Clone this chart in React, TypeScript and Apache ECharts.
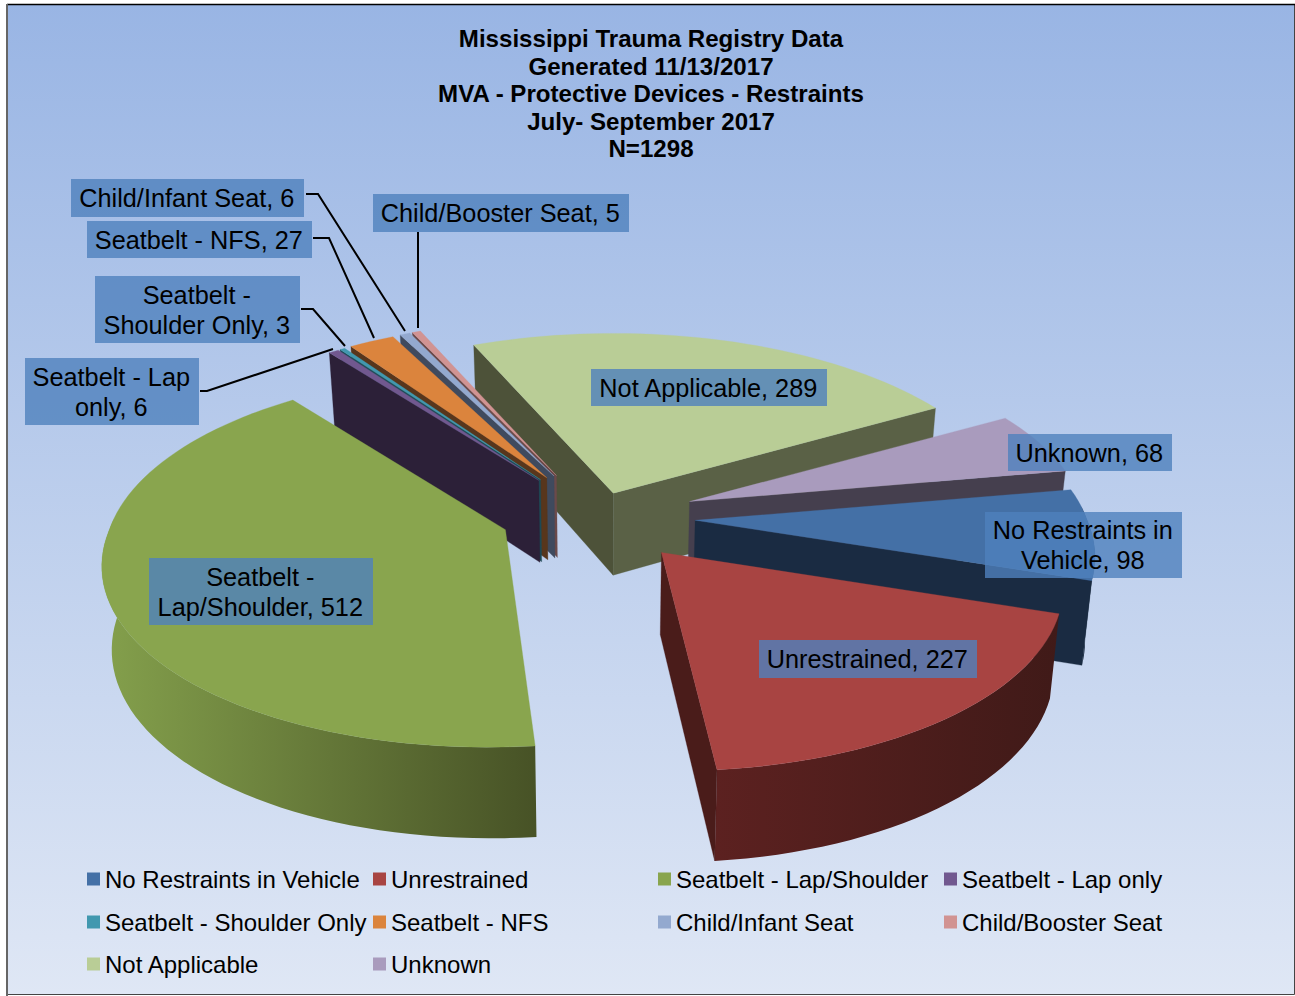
import React, { useEffect, useRef } from "react";
import * as echarts from "echarts";

const titleLines = [
  "Mississippi Trauma Registry Data",
  "Generated 11/13/2017",
  "MVA - Protective Devices - Restraints",
  "July- September 2017",
  "N=1298",
];
const sliceNames = [
  "No Restraints in Vehicle",
  "Unrestrained",
  "Seatbelt - Lap/Shoulder",
  "Seatbelt - Lap only",
  "Seatbelt - Shoulder Only",
  "Seatbelt - NFS",
  "Child/Infant Seat",
  "Child/Booster Seat",
  "Not Applicable",
  "Unknown",
];
const sliceValues = [98, 227, 512, 6, 3, 27, 6, 5, 289, 68];

// styling tables, same order as sliceNames
const topColors = ["#4470a6", "#a84442", "#89a54e", "#71588f", "#4198af", "#db843d", "#93a9cf", "#d19392", "#b9cd96", "#a99bbd"];
const endWallColors = ["#1a2b42", "#4a1c1a", "#4a5428", "#2c2038", "#1d4a56", "#58361c", "#3f4a5e", "#6b4a4a", "#5a6146", "#453f4e"];
const startWallColors = ["#1a2b42", "#4a1c1a", "#4a5428", "#2c2038", "#1d4a56", "#58361c", "#3f4a5e", "#6b4a4a", "#4d5239", "#453f4e"];
const rimStops = [
  ["#1a2b42", "#1a2b42"],
  ["#5c2120", "#401a18"],
  ["#84a04c", "#475226"],
  ["#2c2038", "#2c2038"],
  ["#1d4a56", "#1d4a56"],
  ["#58361c", "#58361c"],
  ["#3f4a5e", "#3f4a5e"],
  ["#6b4a4a", "#6b4a4a"],
  ["#5a6146", "#5a6146"],
  ["#453f4e", "#453f4e"],
];
const explosions = [0.246, 0.246, 0.246, 0.246, 0.246, 0.246, 0.246, 0.246, 0.13, 0.246];
const radiusScales = [0.98, 0.995, 0.99, 0.975, 0.975, 0.975, 0.975, 0.975, 1, 0.98];
const apexNudgeY = [0, 0, -4, 0, 0, 0, 0, 0, -1, 0];
const apexDrawNudgeX = [0, 3, 0, 0, 0, 0, 0, 0, 0, 0];
const paintOrder = [8, 9, 7, 6, 5, 4, 3, 0, 2, 1];

// label text wrapping and layout
const labelBreaks = [
  "No Restraints in\nVehicle, 98",
  "Unrestrained, 227",
  "Seatbelt -\nLap/Shoulder, 512",
  "Seatbelt - Lap\nonly, 6",
  "Seatbelt -\nShoulder Only, 3",
  "Seatbelt - NFS, 27",
  "Child/Infant Seat, 6",
  "Child/Booster Seat, 5",
  "Not Applicable, 289",
  "Unknown, 68",
];
const labelBoxes = [
  [985, 512, 197, 66],
  [759, 640, 218, 38],
  [149, 558, 224, 67],
  [25, 358, 174, 67],
  [95, 276, 205, 67],
  [87, 221, 225, 37],
  [71, 179, 233, 38],
  [373, 194, 256, 38],
  [591, 369, 236, 37],
  [1008, 434, 164, 37],
];
const leaders = [
  [[200, 391], [207, 391], [333, 349]],
  [[301, 309], [313, 309], [345, 346]],
  [[313, 238], [329, 238], [374, 338]],
  [[306, 194], [318, 194], [405, 331]],
  [[418, 232], [418, 328]],
];
const legendColumns = [87, 373, 658, 944];
const legendRows = [867, 910, 952];

const START_ANGLE = 80;
const A = 400;
const B = 185;
const P = 0.158;
const CX = 597;
const CY = 517;
const H = 82;
const VX = 600;

const rad = (d: number) => (d * Math.PI) / 180;
const total = sliceValues.reduce((a, b) => a + b, 0);

function angles(i: number) {
  let s = START_ANGLE;
  for (let k = 0; k < i; k++) s += (sliceValues[k] / total) * 360;
  return [s, s + (sliceValues[i] / total) * 360];
}
function rimPoint(apex: number[], deg: number, scale: number) {
  const w = 1 + P * Math.cos(rad(deg));
  return [
    CX + (apex[0] - CX) / Math.min(w, 1) + (A * scale * Math.sin(rad(deg))) / w,
    apex[1] - (B * scale * Math.cos(rad(deg))) / w,
  ];
}
function below(pt: number[], deg: number | null) {
  const h = deg === null ? H : H / (1 + 0.1 * Math.cos(rad(deg)));
  return [VX + (pt[0] - VX) * 0.98, pt[1] + h];
}

function sliceShapes(i: number) {
  const [s, e] = angles(i);
  const m = (s + e) / 2;
  const ex = explosions[i];
  const apex = [CX + A * ex * Math.sin(rad(m)), CY - B * ex * Math.cos(rad(m)) + apexNudgeY[i]];
  const n = Math.max(2, Math.ceil((e - s) / 2));
  const degs: number[] = [];
  for (let k = 0; k <= n; k++) degs.push(s + ((e - s) * k) / n);
  const rim = degs.map((d) => rimPoint(apex, d, radiusScales[i]));
  const rimLow = rim.map((p, k) => below(p, degs[k]));
  const apexTop = [apex[0] + apexDrawNudgeX[i], apex[1]];
  const apexLow = below(apexTop, null);
  const poly = (points: number[][], fill: any) => ({
    type: "polygon",
    shape: { points },
    style: { fill, stroke: fill instanceof echarts.graphic.LinearGradient ? undefined : fill, lineWidth: 0.3 },
  });
  const grad = new echarts.graphic.LinearGradient(0, 0, 1, 0, [
    { offset: 0, color: rimStops[i][0] },
    { offset: 1, color: rimStops[i][1] },
  ]);
  const children: any[] = [];
  // only the faces turned towards the viewer are drawn
  const visible = degs.map((d) => Math.cos(rad(d)) < 0.09);
  const front = rim.filter((_, k) => visible[k]);
  const frontLow = rimLow.filter((_, k) => visible[k]);
  if (front.length > 1) children.push(poly([...front, ...frontLow.slice().reverse()], grad));
  if (Math.sin(rad(s)) < 0) children.push(poly([apexTop, rim[0], rimLow[0], apexLow], startWallColors[i]));
  if (Math.sin(rad(e)) > 0) children.push(poly([apexTop, rim[n], rimLow[n], apexLow], endWallColors[i]));
  children.push(poly([apexTop, ...rim], topColors[i]));
  return children;
}

const FONT = "'Liberation Sans', Arial, sans-serif";

function buildOption() {
  const series = paintOrder.map((i) => ({
    type: "custom",
    name: sliceNames[i],
    coordinateSystem: "none",
    silent: true,
    itemStyle: { color: topColors[i] },
    data: [{ name: sliceNames[i], value: sliceValues[i] }],
    renderItem: () => ({ type: "group", children: sliceShapes(i) }),
  }));

  const legend = sliceNames.map((name, i) => ({
    show: true,
    data: [{ name, icon: "rect", itemStyle: { color: topColors[i] } }],
    left: legendColumns[i < 8 ? i % 4 : i - 8],
    top: legendRows[Math.floor(i / 4)],
    padding: 0,
    itemWidth: 13,
    itemHeight: 13,
    itemGap: 0,
    selectedMode: false,
    textStyle: { fontFamily: FONT, fontSize: 24, color: "#000", padding: [0, 0, 0, 0] },
  }));

  const graphic: any[] = [
    {
      type: "rect",
      z: -10,
      silent: true,
      shape: { x: 7.5, y: 4.5, width: 1287, height: 990 },
      style: {
        fill: new echarts.graphic.LinearGradient(0, 0, 0, 1, [
          { offset: 0, color: "#99b5e4" },
          { offset: 1, color: "#dfe7f5" },
        ]),
        stroke: "#444",
        lineWidth: 1,
      },
    },
    {
      type: "line",
      z: -9,
      silent: true,
      shape: { x1: 7, y1: 4.5, x2: 1295, y2: 4.5 },
      style: { stroke: "#000", lineWidth: 1.5 },
    },
    {
      type: "line",
      z: -9,
      silent: true,
      shape: { x1: 7, y1: 4, x2: 7, y2: 996 },
      style: { stroke: "#666", lineWidth: 2 },
    },
    {
      type: "text",
      z: 50,
      silent: true,
      x: 651,
      y: 25,
      style: {
        text: titleLines.join("\n"),
        font: `bold 24.1px ${FONT}`,
        fill: "#000",
        align: "center",
        verticalAlign: "top",
        lineHeight: 27.5,
      },
    },
  ];
  leaders.forEach((points) =>
    graphic.push({
      type: "polyline",
      z: 50,
      silent: true,
      shape: { points },
      style: { stroke: "#000", lineWidth: 2, fill: "none" },
    })
  );
  sliceNames.forEach((_, i) => {
    const [x, y, w, h] = labelBoxes[i];
    graphic.push({
      type: "rect",
      z: 60,
      silent: true,
      shape: { x, y, width: w, height: h },
      style: { fill: "rgba(79,129,189,0.8)" },
    });
    graphic.push({
      type: "text",
      z: 61,
      silent: true,
      x: x + w / 2 - 0.7,
      y: y + h / 2,
      style: {
        text: labelBreaks[i],
        font: `25.3px ${FONT}`,
        fill: "#000",
        align: "center",
        verticalAlign: "middle",
        lineHeight: 30,
      },
    });
  });

  return { animation: false, legend, series, graphic };
}

export default function App() {
  const ref = useRef<HTMLDivElement>(null);
  useEffect(() => {
    const chart = echarts.init(ref.current!, undefined, { renderer: "svg" });
    chart.setOption(buildOption());
    return () => chart.dispose();
  }, []);
  return <div ref={ref} style={{ position: "absolute", left: 0, top: 0, width: 1295, height: 996 }} />;
}
